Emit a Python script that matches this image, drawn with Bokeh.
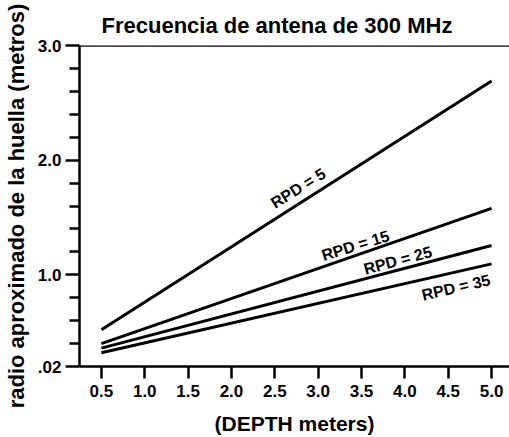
from bokeh.plotting import figure
from bokeh.models import FixedTicker, Span, Range1d, ColumnDataSource
from bokeh.core.properties import value
from bokeh.embed import file_html
from bokeh.resources import INLINE
import math

# ---- data ----
title_text = "Frecuencia de antena de 300 MHz"
x_label = "(DEPTH meters)"
y_label = "radio aproximado de la huella (metros)"

depth = [0.5, 5.0]
rpd5 = [0.52, 2.69]
rpd15 = [0.40, 1.58]
rpd25 = [0.36, 1.255]
rpd35 = [0.32, 1.095]

series_names = ["RPD = 5", "RPD = 15", "RPD = 25", "RPD = 35"]
label_x = [2.77, 3.43, 3.92, 4.59]
label_y = [1.755, 1.255, 1.125, 0.889]
label_angle_deg = [32, 17, 15, 13]

x_ticks = [0.5, 1.0, 1.5, 2.0, 2.5, 3.0, 3.5, 4.0, 4.5, 5.0]
x_tick_labels = ["0.5", "1.0", "1.5", "2.0", "2.5", "3.0", "3.5", "4.0", "4.5", "5.0"]
y_ticks = [0.2, 1.0, 2.0, 3.0]
y_tick_labels = [".02", "1.0", "2.0", "3.0"]
y_minor = [0.4, 0.6, 0.8, 1.2, 1.4, 1.6, 1.8, 2.2, 2.4, 2.6, 2.8]

FONT = "Liberation Sans"

p = figure(width=509, height=437, output_backend="svg", toolbar_location=None,
           x_range=Range1d(0.2474, 5.207), y_range=Range1d(0.2, 3.0),
           min_border_left=10, min_border_right=0, min_border_top=45, min_border_bottom=10)

p.background_fill_color = "white"
p.border_fill_color = "white"
p.outline_line_color = None
p.grid.visible = False

# title
p.title.text = title_text
p.title.text_font = FONT
p.title.text_font_style = "bold"
p.title.text_font_size = "22px"
p.title.align = "left"
p.title.offset = 22
p.title.standoff = 16
p.title.text_color = "black"

for ax in [p.xaxis[0], p.yaxis[0]]:
    ax.axis_line_width = 2.5
    ax.axis_line_color = "black"
    ax.major_tick_line_width = 2.5
    ax.major_tick_line_color = "black"
    ax.minor_tick_line_width = 2.5
    ax.minor_tick_line_color = "black"
    ax.major_tick_in = 0
    ax.minor_tick_in = 0
    ax.major_label_text_font = FONT
    ax.major_label_text_font_style = "bold"
    ax.major_label_text_font_size = "17px"
    ax.major_label_text_color = "black"
    ax.axis_label_text_font = FONT
    ax.axis_label_text_font_style = "bold"
    ax.axis_label_text_font_size = "21px"
    ax.axis_label_text_color = "black"

p.xaxis.ticker = FixedTicker(ticks=x_ticks, minor_ticks=[])
p.xaxis.major_label_overrides = dict(zip(x_ticks, x_tick_labels))
p.xaxis.major_tick_out = 12
p.xaxis.axis_label = x_label
p.xaxis.major_label_standoff = 6
p.xaxis.axis_label_standoff = 12

p.yaxis.ticker = FixedTicker(ticks=y_ticks, minor_ticks=y_minor)
p.yaxis.major_label_overrides = dict(zip(y_ticks, y_tick_labels))
p.yaxis.major_tick_out = 14
p.yaxis.minor_tick_out = 10
p.yaxis.axis_label = y_label
p.yaxis.axis_label_text_font_size = "22px"
p.yaxis.major_label_standoff = 4
p.yaxis.axis_label_standoff = 6

# top border line
p.add_layout(Span(location=3.0, dimension="width", line_color="black", line_width=2.5))

for ys in [rpd5, rpd15, rpd25, rpd35]:
    p.line(depth, ys, line_color="black", line_width=3)

src = ColumnDataSource(dict(x=label_x, y=label_y, t=series_names,
                            a=[math.radians(d) for d in label_angle_deg]))
p.text(x="x", y="y", text="t", angle="a", source=src,
       text_font=value(FONT), text_font_style="bold", text_font_size="16px",
       text_align="center", text_baseline="middle", text_color="black")

open("out.html", "w").write(file_html(p, INLINE))
